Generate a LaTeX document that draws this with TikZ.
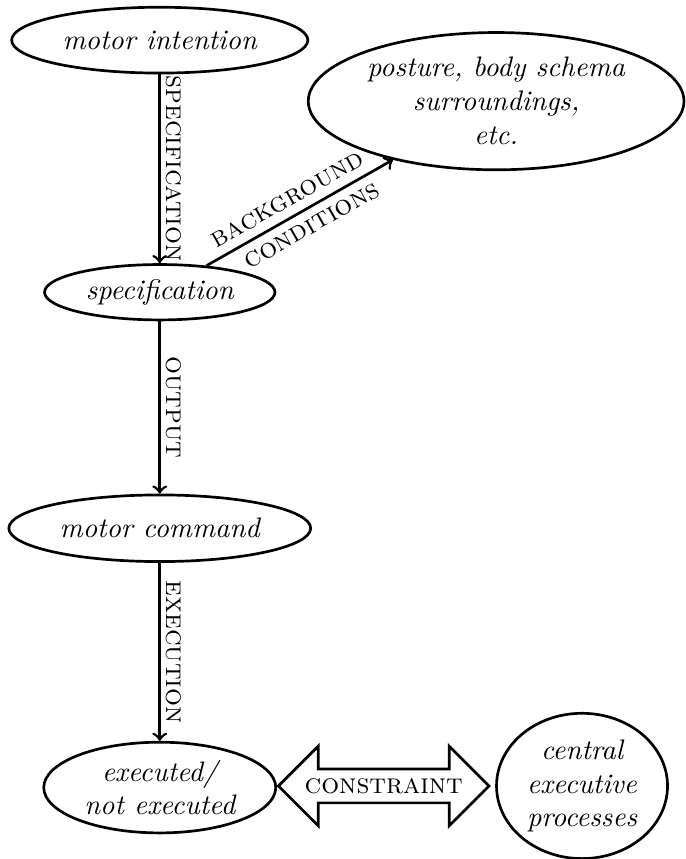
\documentclass[tikz,border=0pt]{standalone}
\usetikzlibrary{shapes.geometric, shapes.arrows}
\begin{document}
\begin{tikzpicture}[
    state/.style={ellipse, draw, line width=0.95pt, font=\itshape, align=center, inner sep=0pt},
    lbl/.style={midway, sloped, font=\scshape, inner sep=1.8pt}]
    \useasboundingbox (0,0) rectangle (8.535,-10.70);
    % motor action chain
    \node[state, minimum width=3.69cm, minimum height=0.82cm] (intention) at (1.99,-0.50) {motor intention};
    \node[state, minimum width=2.87cm, minimum height=0.69cm] (spec) at (1.99,-3.64) {specification};
    \node[state, minimum width=3.76cm, minimum height=0.83cm] (command) at (1.99,-6.58) {motor command};
    \node[state, minimum width=2.89cm, minimum height=1.13cm] (executed) at (1.99,-9.81) {executed/\\not executed};
    \node[state, minimum width=4.68cm, minimum height=1.71cm] (posture) at (6.18,-1.26) {posture, body schema\\surroundings,\\etc.};
    \node[state, minimum width=2.13cm, minimum height=1.81cm] (central) at (7.25,-9.79) {central\\executive\\processes};
    \node[double arrow, draw, line width=0.95pt, font=\scshape, double arrow head extend=0.285cm,
          minimum height=2.52cm, inner sep=2.8pt] (constraint) at (4.78,-9.79) {constraint};

    \draw[->, line width=0.95pt] (intention) -- (spec) node[lbl, above] {specification};
    \draw[->, line width=0.95pt] (spec) -- (command) node[lbl, above] {output};
    \draw[->, line width=0.95pt] (command) -- (executed) node[lbl, above] {execution};
    \draw[->, line width=0.95pt] (spec) -- (posture)
        node[lbl, above, inner sep=3pt, pos=0.48] {background}
        node[lbl, below, inner sep=3pt, pos=0.52] {conditions};
\end{tikzpicture}
\end{document}
